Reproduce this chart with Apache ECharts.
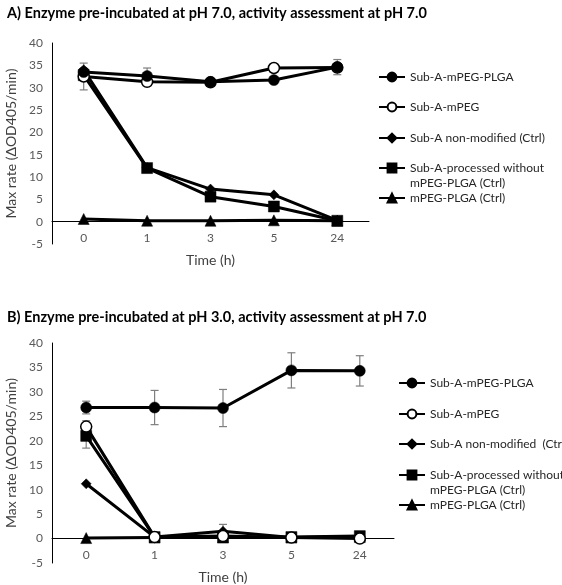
<!DOCTYPE html>
<html><head><meta charset="utf-8">
<script src="https://cdn.jsdelivr.net/npm/echarts@6/dist/echarts.min.js"></script>
<style>html,body{margin:0;padding:0;background:#fff}#c{width:562px;height:585px}</style>
</head><body><div id="c"></div>
<script>
var categories = ['0','1','3','5','24'];
var seriesNames = ['Sub-A-mPEG-PLGA','Sub-A-mPEG','Sub-A non-modified (Ctrl)','Sub-A-processed without\nmPEG-PLGA (Ctrl)','mPEG-PLGA (Ctrl)'];
var seriesNamesB = ['Sub-A-mPEG-PLGA','Sub-A-mPEG','Sub-A non-modified  (Ctrl)','Sub-A-processed without\nmPEG-PLGA (Ctrl)','mPEG-PLGA (Ctrl)'];
var titleA = 'A) Enzyme pre-incubated at pH 7.0, activity assessment at pH 7.0';
var titleB = 'B) Enzyme pre-incubated at pH 3.0, activity assessment at pH 7.0';
var yName = 'Max rate (\u0394OD405/min)';
var xName = 'Time (h)';

// Panel A values
var aMpegPlga = [33.5, 32.6, 31.3, 31.7, 34.6];
var aMpeg     = [32.5, 31.3, 31.2, 34.4, 34.5];
var aNonMod   = [34.0, 12.1, 7.3, 6.0, 0.3];
var aProc     = [32.8, 12.0, 5.6, 3.4, 0.2];
var aPlga     = [0.6, 0.2, 0.2, 0.3, 0.2];
// Panel A error (+/-)
var aErrMpegPlga = [null, 1.8, 0.5, 0.6, 1.7];
var aErrMpeg     = [3.0, null, null, 0.8, null];

// Panel B values
var bMpegPlga = [26.8, 26.8, 26.7, 34.4, 34.3];
var bMpeg     = [22.9, 0.3, 0.5, 0.2, 0.0];
var bNonMod   = [11.2, 0.3, 1.5, 0.2, 0.3];
var bProc     = [21.0, 0.3, 0.3, 0.3, 0.5];
var bPlga     = [0.1, 0.2, 0.2, 0.2, 0.3];
// Panel B error (+/-)
var bErrMpegPlga = [1.3, 3.5, 3.8, 3.6, 3.1];
var bErrMpeg     = [1.2, null, null, null, null];
var bErrNonMod   = [null, null, 1.4, null, null];
var bErrProc     = [2.5, null, null, null, null];

var FONT = 'Lato';
var symbols = [
  {symbol:'circle', size:11, fill:'#000'},
  {symbol:'circle', size:11, fill:'#fff'},
  {symbol:'diamond', size:10, fill:'#000'},
  {symbol:'rect', size:11, fill:'#000'},
  {symbol:'triangle', size:11, fill:'#000'}
];

var grids = [
  {left:52, top:43, width:317, height:201, containLabel:false, outerBoundsMode:'none'},
  {left:52, top:343, width:342, height:220, containLabel:false, outerBoundsMode:'none'}
];
var labelMargins = [-12, -14];
var nameGaps = [9, 7];

function errData(vals, errs){
  var out=[];
  for (var i=0;i<vals.length;i++){ if(errs[i]!=null) out.push([i, vals[i]-errs[i], vals[i]+errs[i]]); }
  return out;
}

var option = {
  animation:false,
  textStyle:{fontFamily:FONT},
  title:[
    {text:titleA, left:2, top:1, textStyle:{fontFamily:FONT, fontWeight:'bold', fontSize:14.5, color:'#000'}},
    {text:titleB, left:2, top:305, textStyle:{fontFamily:FONT, fontWeight:'bold', fontSize:14.5, color:'#000'}}
  ],
  grid: grids,
  xAxis: [0,1].map(function(g){ return {
    type:'category', gridIndex:g, data:categories, boundaryGap:true,
    axisLine:{onZero:true, lineStyle:{color:'#000', width:1}},
    axisTick:{show:false},
    axisLabel:{color:'#595959', fontSize:12, margin:labelMargins[g], fontFamily:FONT},
    name:xName, nameLocation:'middle', nameGap:nameGaps[g], nameMoveOverlap:false,
    nameTextStyle:{color:'#404040', fontSize:14, fontFamily:FONT}
  };}),
  yAxis: [0,1].map(function(g){ return {
    type:'value', gridIndex:g, min:-5, max:40, interval:5,
    splitLine:{show:false},
    axisLine:{show:true, onZero:false, lineStyle:{color:'#000', width:1}},
    axisTick:{show:false},
    axisLabel:{color:'#595959', fontSize:12, margin:9, fontFamily:FONT},
    name:yName, nameLocation:'middle', nameGap:30,
    nameTextStyle:{color:'#404040', fontSize:14, fontFamily:FONT}
  };}),
  legend: [],
  series: []
};

function errSeries(g, data){
  return {
    type:'custom', xAxisIndex:g, yAxisIndex:g, z:1, silent:true,
    data:data,
    renderItem:function(params, api){
      var x=api.value(0), lo=api.coord([x, api.value(1)]), hi=api.coord([x, api.value(2)]);
      var w=4;
      var st={stroke:'#7f7f7f', lineWidth:1.2};
      return {type:'group', children:[
        {type:'line', shape:{x1:lo[0],y1:lo[1],x2:hi[0],y2:hi[1]}, style:st},
        {type:'line', shape:{x1:lo[0]-w,y1:lo[1],x2:lo[0]+w,y2:lo[1]}, style:st},
        {type:'line', shape:{x1:hi[0]-w,y1:hi[1],x2:hi[0]+w,y2:hi[1]}, style:st}
      ]};
    }
  };
}

function lineSeries(g, idx, name, data){
  var s=symbols[idx];
  return {
    type:'line', name:name, xAxisIndex:g, yAxisIndex:g, data:data, z:3+ (4-idx),
    symbol:s.symbol, symbolSize:s.size, showAllSymbol:true,
    lineStyle:{color:'#000', width:3},
    itemStyle:{color:s.fill, borderColor:'#000', borderWidth: idx===1?1.5:0.5}
  };
}

var dataA=[aMpegPlga,aMpeg,aNonMod,aProc,aPlga];
var dataB=[bMpegPlga,bMpeg,bNonMod,bProc,bPlga];
option.series.push(errSeries(0, errData(aMpegPlga,aErrMpegPlga).concat(errData(aMpeg,aErrMpeg))));
option.series.push(errSeries(1, errData(bMpegPlga,bErrMpegPlga).concat(errData(bMpeg,bErrMpeg)).concat(errData(bNonMod,bErrNonMod)).concat(errData(bProc,bErrProc))));
for (var i=0;i<5;i++){
  option.series.push(lineSeries(0,i,seriesNames[i],dataA[i]));
}
for (var i=0;i<5;i++){
  option.series.push(lineSeries(1,i,seriesNamesB[i],dataB[i]));
}

var legTopsA=[77,107,138,168,198];
var legTopsB=[383,414,444,475,505];
function addLegends(names, tops, left){
  for (var i=0;i<5;i++){
    var two = names[i].indexOf('\n')>=0;
    option.legend.push({
      data:[names[i]], left:left, top: two ? tops[i]-22.5 : tops[i]-7.5, orient:'vertical',
      itemWidth:26, itemHeight:11, itemGap:0, padding:0, selectedMode:false,
      formatter: function(n){ return n.indexOf('\n')>=0 ? ' \n'+n : n; },
      textStyle:{fontFamily:FONT, fontSize:12, color:'#262626', lineHeight:15}
    });
  }
}
addLegends(seriesNames, legTopsA, 378);
addLegends(seriesNamesB, legTopsB, 398);

var chart = echarts.init(document.getElementById('c'), null, {renderer:'canvas'});
chart.setOption(option);
</script>
</body></html>
